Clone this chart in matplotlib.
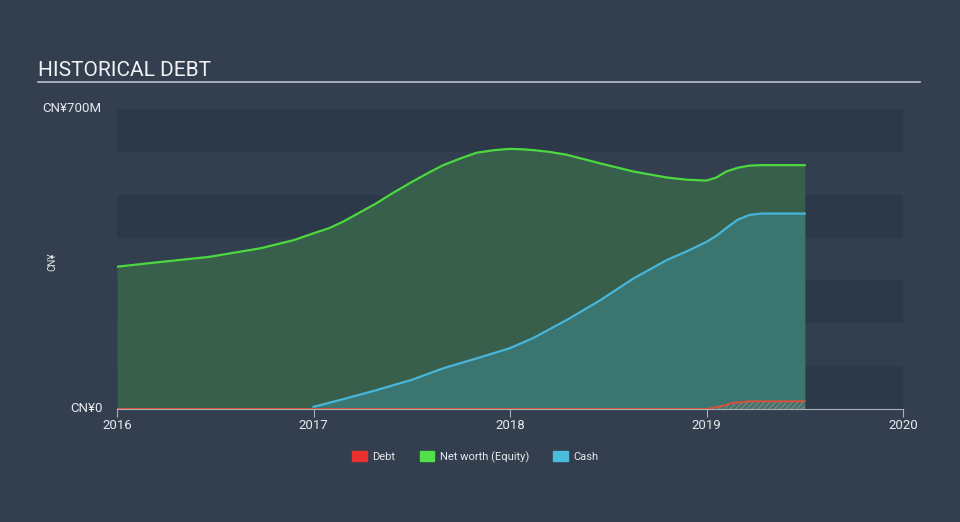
import matplotlib
matplotlib.use("Agg")
import matplotlib.pyplot as plt
from matplotlib.patches import Patch

plt.rcParams['font.family'] = ['Roboto', 'DejaVu Sans']

# values in CN¥ millions
nw_x = [2016.0, 2016.2, 2016.47, 2016.73, 2016.9, 2017.0, 2017.08, 2017.15, 2017.32, 2017.4, 2017.49,
        2017.58, 2017.66, 2017.75, 2017.83, 2017.92, 2018.0, 2018.06, 2018.12, 2018.2, 2018.29,
        2018.46, 2018.63, 2018.80, 2018.9, 2019.0, 2019.05, 2019.10, 2019.16, 2019.22, 2019.28, 2019.5]
nw_y = [332, 342, 355, 375, 394, 410, 422, 437, 480, 503, 527,
        550, 569, 585, 598, 604, 607, 606, 604, 600, 593,
        573, 554, 540, 535, 533, 540, 554, 563, 568, 569, 569]

cash_x = [2017.0, 2017.16, 2017.32, 2017.5, 2017.66, 2017.83, 2018.0, 2018.12, 2018.29, 2018.46,
          2018.63, 2018.80, 2018.9, 2019.0, 2019.05, 2019.10, 2019.16, 2019.22, 2019.28, 2019.5]
cash_y = [5, 24, 44, 68, 95, 118, 142, 166, 208, 254,
          305, 348, 368, 390, 404, 422, 442, 453, 456, 456]

debt_x = [2016.0, 2019.0, 2019.07, 2019.13, 2019.22, 2019.5]
debt_y = [0, 0, 6, 14, 18, 18]

years = [2016, 2017, 2018, 2019, 2020]

BG = '#333f4f'
GREEN = '#4cd93f'
BLUE = '#47b6da'
RED = '#d9503b'

fig = plt.figure(figsize=(9.6, 5.22), dpi=100)
fig.patch.set_facecolor(BG)
ax = fig.add_axes([117/960, 113/522, 786/960, 300/522])
ax.set_facecolor(BG)

# alternating bands
for i in range(7):
    c = '#2d3949' if i % 2 == 0 else '#323f4f'
    ax.axhspan(i*100, (i+1)*100, color=c, lw=0, zorder=0)

ax.fill_between(nw_x, 0, nw_y, color='#375f4b', lw=0, zorder=1)
ax.fill_between(cash_x, 0, cash_y, color='#3b7570', lw=0, zorder=2)
ax.fill_between(debt_x, 0, debt_y, facecolor='none', edgecolor='#8a7d72', hatch='//////', lw=0, zorder=3)
ax.plot(nw_x, nw_y, color=GREEN, lw=1.6, zorder=4, solid_joinstyle='round')
ax.plot(cash_x, cash_y, color=BLUE, lw=1.6, zorder=4, solid_joinstyle='round')
ax.plot(debt_x, debt_y, color=RED, lw=1.4, zorder=4)

ax.set_xlim(2016, 2020)
ax.set_ylim(0, 700)
for s in ['top', 'right', 'left']:
    ax.spines[s].set_visible(False)
ax.spines['bottom'].set_color('#a9b0ba')
ax.set_xticks(years)
ax.set_xticklabels([str(y) for y in years], color='#e6e9ed', fontsize=9.5)
ax.tick_params(axis='x', colors='#a9b0ba', length=6, labelcolor='#e6e9ed', pad=1)
ax.set_yticks([])

ax.text(-0.018, 0, 'CN¥0', transform=ax.transAxes, ha='right', va='center', color='#e6e9ed', fontsize=9.5)
fig.text(42/960, 1-109/522, 'CN¥700M', ha='left', va='center', color='#e6e9ed', fontsize=9.5)
fig.text(52/960, 1-262/522, 'CN¥', rotation=90, ha='center', va='center', color='#e6e9ed', fontsize=7)

fig.text(38/960, 1-70/522, 'HISTORICAL DEBT', ha='left', va='center', color='#f0f2f5', fontsize=15)
fig.add_artist(plt.Line2D([38/960, 920/960], [1-82/522, 1-82/522], color='#b9c0c9', lw=1.2))

handles = [Patch(color='#e8302f', label='Debt'),
           Patch(color='#4fe04a', label='Net worth (Equity)'),
           Patch(color='#4bbcde', label='Cash')]
fig.legend(handles=handles, loc='center', bbox_to_anchor=(0.495, 1-457/522), ncol=3, frameon=False,
           fontsize=8, labelcolor='#e6e9ed', handlelength=1.3, handleheight=1.0, columnspacing=2.2,
           handletextpad=0.5)

fig.savefig('out.png', dpi=100, facecolor=BG)
